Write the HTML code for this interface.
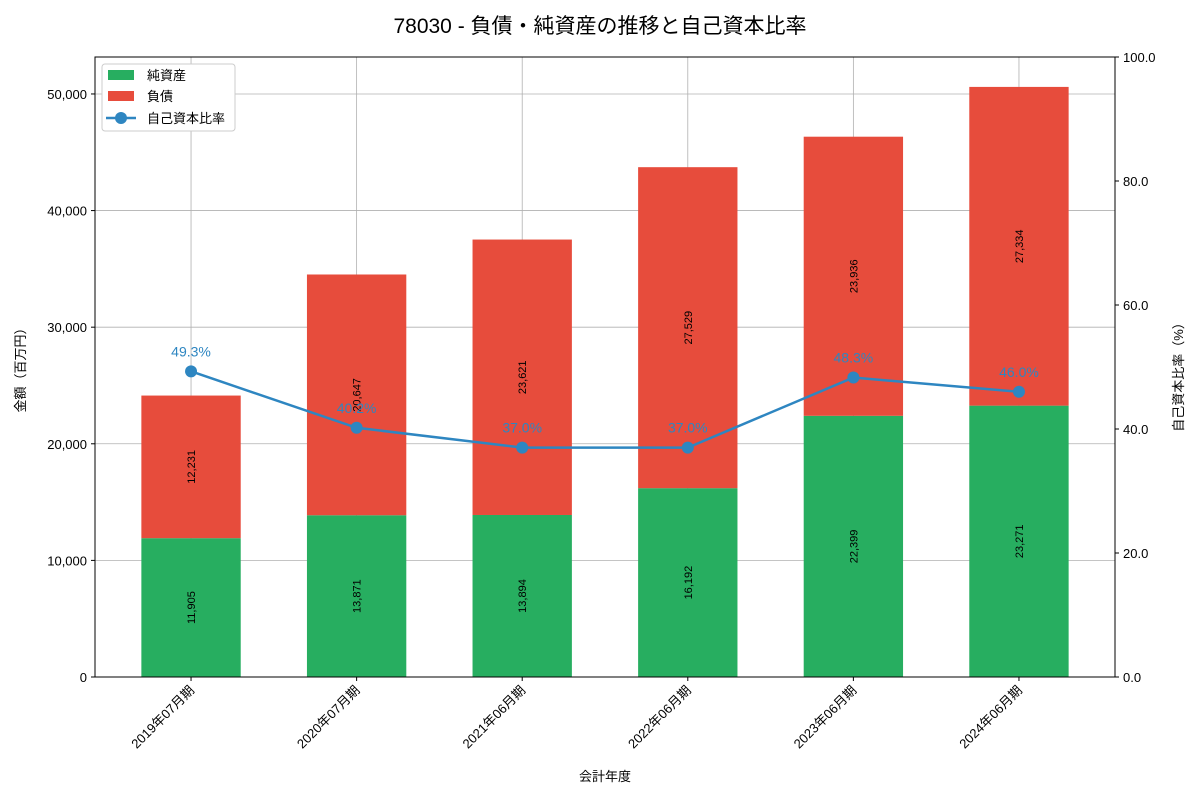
<!DOCTYPE html>
<html><head><meta charset="utf-8"><style>
body{margin:0;background:#fff}
svg{font-family:"Liberation Sans","Noto Sans CJK JP",sans-serif}
</style></head><body>
<svg id="c" width="1200" height="800" xmlns="http://www.w3.org/2000/svg"></svg>
<script>
const categories=["2019年07月期","2020年07月期","2021年06月期","2022年06月期","2023年06月期","2024年06月期"];
const equity=[11905,13871,13894,16192,22399,23271];
const liabilities=[12231,20647,23621,27529,23936,27334];
const ratio=[49.3,40.2,37.0,37.0,48.3,46.0];
const yTicks=[0,10000,20000,30000,40000,50000];
const y2Ticks=[0,20,40,60,80,100];

const L=95,R=1115,T=57,B=677;
const yMax=53170;
const svg=document.getElementById('c');
const NS="http://www.w3.org/2000/svg";
function xs(i){return L+(i+0.58)*(R-L)/6.16;}
function ys(v){return B-v/yMax*(B-T);}
function y2(v){return B-v/100*(B-T);}
function mk(tag,attrs,text){const e=document.createElementNS(NS,tag);for(const k in attrs)e.setAttribute(k,attrs[k]);if(text!==undefined)e.textContent=text;svg.appendChild(e);return e;}
function fmt(v){return v.toLocaleString('en-US');}

let e=mk('text',{x:600,y:33,'text-anchor':'middle','font-size':21,fill:'#000'},'78030 - 負債・純資産の推移と自己資本比率');



// grid
yTicks.forEach(v=>{
 let g=mk('line',{x1:L,x2:R,y1:ys(v),y2:ys(v),stroke:'#b0b0b0','stroke-width':0.8});
 
 
 let t=mk('text',{x:L-8,y:ys(v)+5,'text-anchor':'end','font-size':13,fill:'#000'},fmt(v));
 
 
 mk('line',{x1:L-4,x2:L,y1:ys(v),y2:ys(v),stroke:'#000'});
});
categories.forEach((c,i)=>{
 let g=mk('line',{x1:xs(i),x2:xs(i),y1:T,y2:B,stroke:'#b0b0b0','stroke-width':0.8});
 
 
});
y2Ticks.forEach(v=>{
 mk('line',{x1:R,x2:R+4,y1:y2(v),y2:y2(v),stroke:'#000'});
 let t=mk('text',{x:R+8,y:y2(v)+5,'font-size':13,fill:'#000'},v.toFixed(1));
 
 
});

// bars
const bw=0.6*(R-L)/6.16;
categories.forEach((c,i)=>{
 const x=xs(i)-bw/2;
 let b1=mk('rect',{x:x,y:ys(equity[i]),width:bw,height:ys(0)-ys(equity[i]),fill:'#27ae60'});
 
 
 const tot=equity[i]+liabilities[i];
 let b2=mk('rect',{x:x,y:ys(tot),width:bw,height:ys(equity[i])-ys(tot),fill:'#e74c3c'});
 
 
 const m1=ys(equity[i]/2),m2=ys(equity[i]+liabilities[i]/2);
 let l1=mk('text',{x:xs(i)+4,y:m1,'text-anchor':'middle','font-size':11,fill:'#000',transform:`rotate(-90 ${xs(i)+4} ${m1})`},fmt(equity[i]));
 
 
 let l2=mk('text',{x:xs(i)+4,y:m2,'text-anchor':'middle','font-size':11,fill:'#000',transform:`rotate(-90 ${xs(i)+4} ${m2})`},fmt(liabilities[i]));
 
 
 mk('line',{x1:xs(i),x2:xs(i),y1:B,y2:B+4,stroke:'#000'});
 const tx=xs(i)+4,ty=B+14;
 let t=mk('text',{x:tx,y:ty,'text-anchor':'end','font-size':13,fill:'#000',transform:`rotate(-45 ${tx} ${ty})`},c);
 
 
});

// line
let pts=ratio.map((v,i)=>xs(i)+','+y2(v)).join(' ');
let pl=mk('polyline',{points:pts,fill:'none',stroke:'#2e86c1','stroke-width':2.5});


ratio.forEach((v,i)=>{
 let c=mk('circle',{cx:xs(i),cy:y2(v),r:6,fill:'#2e86c1'});
 
 
 let t=mk('text',{x:xs(i),y:y2(v)-15,'text-anchor':'middle','font-size':14,fill:'#2e86c1'},v.toFixed(1)+'%');
 
 
});

// frame
let f=mk('rect',{x:L,y:T,width:R-L,height:B-T,fill:'none',stroke:'#000','stroke-width':1});



// axis titles
let xt=mk('text',{x:605,y:781,'text-anchor':'middle','font-size':13,fill:'#000'},'会計年度');


let yt=mk('text',{x:25,y:367,'text-anchor':'middle','font-size':13,fill:'#000',transform:'rotate(-90 25 367)'},'金額（百万円）');


let y2t=mk('text',{x:1183,y:374,'text-anchor':'middle','font-size':13,fill:'#000',transform:'rotate(-90 1183 374)'},'自己資本比率（%）');



// legend
let lg=mk('rect',{x:102,y:64,width:133,height:67,fill:'#fff',stroke:'#ccc',rx:3});


let s1=mk('rect',{x:108,y:70,width:26,height:10,fill:'#27ae60'});


let t1=mk('text',{x:147,y:80,'font-size':13,fill:'#000'},'純資産');


let s2=mk('rect',{x:108,y:91,width:26,height:10,fill:'#e74c3c'});


let t2=mk('text',{x:147,y:101,'font-size':13,fill:'#000'},'負債');


mk('line',{x1:106,x2:136,y1:118,y2:118,stroke:'#2e86c1','stroke-width':2.5});
let s3=mk('circle',{cx:121,cy:118,r:6,fill:'#2e86c1'});


let t3=mk('text',{x:147,y:123,'font-size':13,fill:'#000'},'自己資本比率');


</script>
</body></html>
